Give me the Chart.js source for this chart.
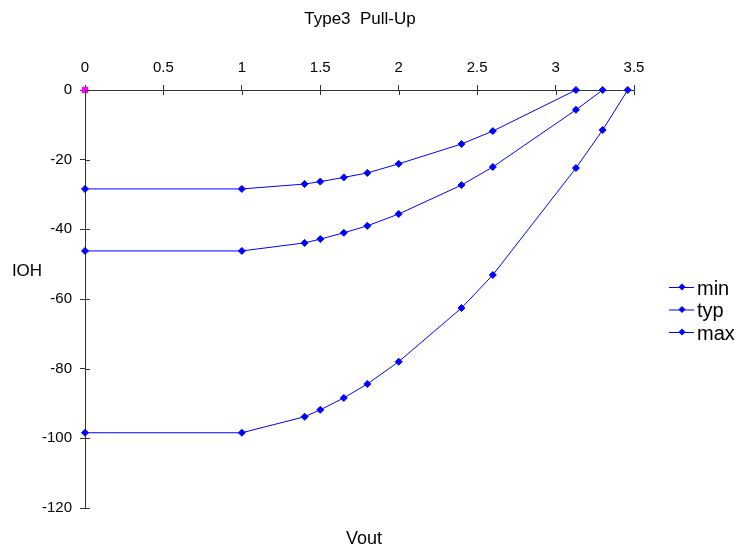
<!DOCTYPE html>
<html lang="en">
<head>
  <meta charset="UTF-8">
  <title>Type3 Pull-Up</title>
  <script src="https://cdn.jsdelivr.net/npm/chart.js"></script>
  <style>
    html, body { margin: 0; padding: 0; background: #fff; }
    #wrap { width: 740px; height: 552px; }
  </style>
</head>
<body>
  <div id="wrap"><canvas id="ioh"></canvas></div>

  <script>
    // values
    const voutMin = [0, 1, 1.4, 1.5, 1.65, 1.8, 2, 2.4, 2.6, 3.13];
    const iohMin = [-28.4, -28.4, -27.0, -26.3, -25.1, -23.8, -21.2, -15.5, -11.8, 0];
    const voutTyp = [0, 1, 1.4, 1.5, 1.65, 1.8, 2, 2.4, 2.6, 3.13, 3.3];
    const iohTyp = [-46.2, -46.2, -43.9, -42.8, -41.0, -39.0, -35.6, -27.3, -22.1, -5.7, 0];
    const voutMax = [0, 1, 1.4, 1.5, 1.65, 1.8, 2, 2.4, 2.6, 3.13, 3.3, 3.46];
    const iohMax = [-98.4, -98.4, -93.8, -91.8, -88.4, -84.4, -78.0, -62.6, -53.1, -22.4, -11.5, 0];
    const seriesNames = ['min', 'typ', 'max'];
    const xTicks = [0, 0.5, 1, 1.5, 2, 2.5, 3, 3.5];
    const yTicks = [0, -20, -40, -60, -80, -100, -120];

    const FONT = "'Liberation Sans', Arial, sans-serif";
    const BLUE = '#0000ff';

    const toPts = (xs, ys) => xs.map((x, i) => ({ x, y: ys[i] }));

    const mkSet = (label, pts) => ({
      label,
      data: pts,
      borderColor: BLUE,
      backgroundColor: BLUE,
      borderWidth: 1,
      pointStyle: 'rectRot',
      pointRadius: 3.5,
      pointHoverRadius: 3.5,
      showLine: true,
      tension: 0,
      clip: false,
      order: 1
    });

    // draws ticks through the axes, titles and the legend
    const extras = {
      id: 'extras',
      afterDraw(chart) {
        const c = chart.ctx;
        const xs = chart.scales.x, ys = chart.scales.y;
        const y0 = ys.getPixelForValue(0);
        const x0 = xs.getPixelForValue(0);
        c.save();
        c.strokeStyle = '#333';
        c.lineWidth = 1;
        c.beginPath();
        xTicks.forEach(v => {
          const px = Math.round(xs.getPixelForValue(v)) + 0.5;
          c.moveTo(px, y0); c.lineTo(px, y0 + 5);
        });
        yTicks.forEach(v => {
          const py = Math.round(ys.getPixelForValue(v)) + 0.5;
          c.moveTo(x0, py); c.lineTo(x0 + 5, py);
        });
        c.stroke();

        c.fillStyle = '#000';
        c.textAlign = 'center';
        c.textBaseline = 'middle';
        c.font = '17px ' + FONT;
        c.fillText('Type3  Pull-Up', 360, 19);
        c.font = '18px ' + FONT;
        c.fillText('Vout', 364, 539);
        c.font = '17px ' + FONT;
        c.fillText('IOH', 27, 271);

        // legend
        c.textAlign = 'left';
        c.font = '20px ' + FONT;
        seriesNames.forEach((name, i) => {
          const ly = 287 + i * 22.5;
          c.strokeStyle = BLUE;
          c.beginPath();
          c.moveTo(669, ly + 0.5); c.lineTo(694, ly + 0.5);
          c.stroke();
          c.fillStyle = BLUE;
          c.beginPath();
          c.moveTo(682, ly - 3.5); c.lineTo(685.5, ly); c.lineTo(682, ly + 3.5); c.lineTo(678.5, ly);
          c.closePath(); c.fill();
          c.fillStyle = '#000';
          c.fillText(name, 697, ly + 2);
        });
        c.restore();
      }
    };

    new Chart(document.getElementById('ioh'), {
      type: 'scatter',
      data: {
        datasets: [
          mkSet(seriesNames[0], toPts(voutMin, iohMin)),
          mkSet(seriesNames[1], toPts(voutTyp, iohTyp)),
          mkSet(seriesNames[2], toPts(voutMax, iohMax)),
          {
            label: 'origin',
            data: [{ x: 0, y: 0 }],
            pointStyle: 'rect',
            pointRadius: 4.5,
            backgroundColor: '#ff00ff',
            borderColor: '#ff00ff',
            borderWidth: 0,
            showLine: false,
            clip: false,
            order: 5
          }
        ]
      },
      options: {
        responsive: true,
        maintainAspectRatio: false,
        animation: false,
        layout: { padding: { left: 0, top: 0, right: 106, bottom: 44 } },
        plugins: {
          legend: { display: false },
          tooltip: { enabled: false }
        },
        scales: {
          x: {
            type: 'linear',
            position: 'top',
            min: 0,
            max: 3.5,
            afterFit: s => { s.height = 90; },
            afterBuildTicks: s => { s.ticks = xTicks.map(v => ({ value: v })); },
            border: { color: '#333', width: 1 },
            grid: { drawOnChartArea: false, tickLength: 5, color: '#333' },
            ticks: {
              color: '#000', font: { family: FONT, size: 15 }, padding: 8, maxRotation: 0,
              callback: v => String(v)
            }
          },
          y: {
            type: 'linear',
            min: -120,
            max: 0,
            afterFit: s => { s.width = 85; },
            afterBuildTicks: s => { s.ticks = yTicks.map(v => ({ value: v })); },
            border: { color: '#333', width: 1 },
            grid: { drawOnChartArea: false, tickLength: 5, color: '#333' },
            ticks: { color: '#000', font: { family: FONT, size: 15 }, padding: 8 }
          }
        }
      },
      plugins: [extras]
    });
  </script>
</body>
</html>
